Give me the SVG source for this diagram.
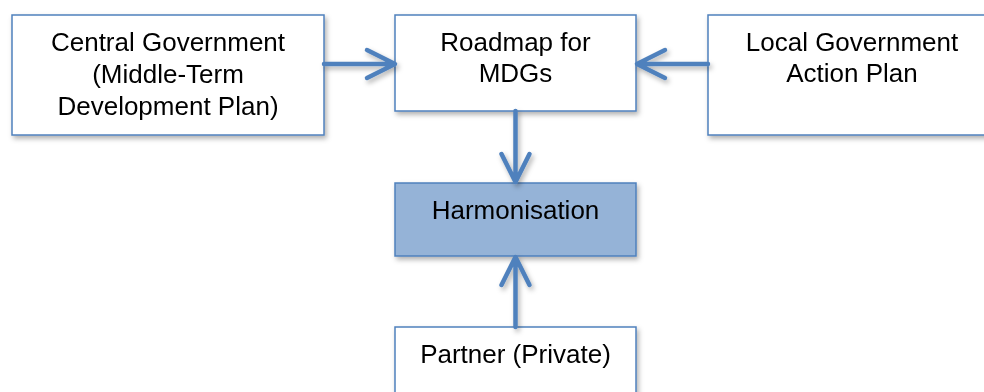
<svg xmlns="http://www.w3.org/2000/svg" width="984" height="392" viewBox="0 0 984 392">
<defs>
<filter id="sh" x="-10%" y="-20%" width="130%" height="150%">
<feDropShadow dx="2" dy="3" stdDeviation="2.5" flood-color="#000" flood-opacity="0.3"/>
</filter>
</defs>
<style>
.box{fill:#ffffff;stroke:#4f81bd;stroke-width:1.5}
.hl{fill:#95b3d7;stroke:#4f81bd;stroke-width:1.5}
.t{font-family:"Liberation Sans",Arial,sans-serif;font-size:26px;fill:#000;text-anchor:middle}
.c{fill:none;stroke:#4f81bd;stroke-width:4.5;stroke-linecap:round;stroke-linejoin:round}
</style>
<rect width="984" height="392" fill="#fff"/>
<g id="central" filter="url(#sh)">
<rect class="box" x="12" y="15" width="312" height="120"/>
<text class="t" x="168" y="51">Central Government</text>
<text class="t" x="168" y="83">(Middle-Term</text>
<text class="t" x="168" y="115">Development Plan)</text>
</g>
<g id="roadmap" filter="url(#sh)">
<rect class="box" x="395" y="15" width="241" height="96"/>
<text class="t" x="515.5" y="51">Roadmap for</text>
<text class="t" x="515.5" y="82">MDGs</text>
</g>
<g id="local" filter="url(#sh)">
<rect class="box" x="708" y="15" width="288" height="120"/>
<text class="t" x="852" y="51">Local Government</text>
<text class="t" x="852" y="82">Action Plan</text>
</g>
<g id="harmonisation" filter="url(#sh)">
<rect class="hl" x="395" y="183" width="241" height="73"/>
<text class="t" x="515.5" y="219">Harmonisation</text>
</g>
<g id="partner" filter="url(#sh)">
<rect class="box" x="395" y="327" width="241" height="80"/>
<text class="t" x="515.5" y="363">Partner (Private)</text>
</g>
<g id="connectors" filter="url(#sh)">
<path class="c" d="M324,64 H394 M367,50 L395,64 L367,78"/>
<path class="c" d="M708,64 H638 M665,50 L637,64 L665,78"/>
<path class="c" d="M515.5,111 V181 M501.5,154 L515.5,182 L529.5,154"/>
<path class="c" d="M515.5,327 V258 M501.5,285 L515.5,257 L529.5,285"/>
</g>
</svg>
